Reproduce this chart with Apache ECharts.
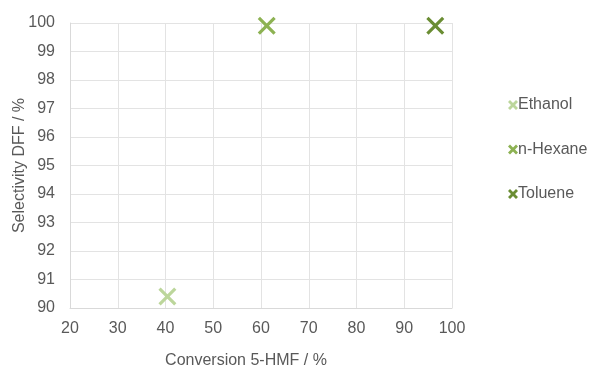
<!DOCTYPE html>
<html><head><meta charset="utf-8">
<script src="https://cdn.jsdelivr.net/npm/echarts@6/dist/echarts.min.js"></script>
<style>html,body{margin:0;padding:0;background:#fff}#c{width:590px;height:365px}</style>
</head><body><div id="c"></div>
<script>
const seriesNames = ['Ethanol', 'n-Hexane', 'Toluene'];
const conversion = [40.4, 61.2, 96.5];
const selectivity = [90.4, 99.9, 99.9];
const colors = ['#bcd69b', '#8db253', '#6a8d33'];
const xTicks = [20, 100, 10];
const yTicks = [90, 100, 1];

const xPath = 'path://M0,2.5 L2.5,0 L10,7.5 L17.5,0 L20,2.5 L12.5,10 L20,17.5 L17.5,20 L10,12.5 L2.5,20 L0,17.5 L7.5,10 Z';
const xPathBold = 'path://M0,4 L4,0 L10,6 L16,0 L20,4 L14,10 L20,16 L16,20 L10,14 L4,20 L0,16 L6,10 Z';
const chart = echarts.init(document.getElementById('c'));
chart.setOption({
  animation: false,
  textStyle: {fontFamily: 'Liberation Sans, Arial, sans-serif'},
  grid: {left: 70, right: 138, top: 23, bottom: 57, containLabel: false, outerBoundsMode: 'none'},
  legend: {
    orient: 'vertical', left: 503, top: 92, itemGap: 28.5, itemWidth: 10, itemHeight: 10,
    icon: xPathBold,
    textStyle: {fontSize: 16, color: '#595959', padding: [0, 0, 0, -5]},
    data: seriesNames
  },
  xAxis: {
    type: 'value', min: xTicks[0], max: xTicks[1], interval: xTicks[2],
    name: 'Conversion 5-HMF / %', nameLocation: 'middle', nameGap: 45, nameMoveOverlap: false,
    nameTextStyle: {fontSize: 16, color: '#595959', padding: [0, 30, 0, 0]},
    axisLine: {show: true, lineStyle: {color: '#d9d9d9'}},
    axisTick: {show: false},
    axisLabel: {fontSize: 16, color: '#595959', margin: 13},
    splitLine: {show: true, lineStyle: {color: '#e3e3e3'}}
  },
  yAxis: {
    type: 'value', min: yTicks[0], max: yTicks[1], interval: yTicks[2],
    name: 'Selectivity DFF / %', nameLocation: 'middle', nameGap: 42, nameMoveOverlap: false,
    nameTextStyle: {fontSize: 16, color: '#595959'},
    axisLine: {show: true, lineStyle: {color: '#d9d9d9'}},
    axisTick: {show: false},
    axisLabel: {fontSize: 16, color: '#595959', margin: 15},
    splitLine: {show: true, lineStyle: {color: '#e3e3e3'}}
  },
  series: seriesNames.map((n, i) => ({
    name: n, type: 'scatter', clip: false,
    symbol: xPath, symbolSize: 18,
    itemStyle: {color: colors[i], opacity: 1},
    data: [[conversion[i], selectivity[i]]]
  }))
});
</script></body></html>
